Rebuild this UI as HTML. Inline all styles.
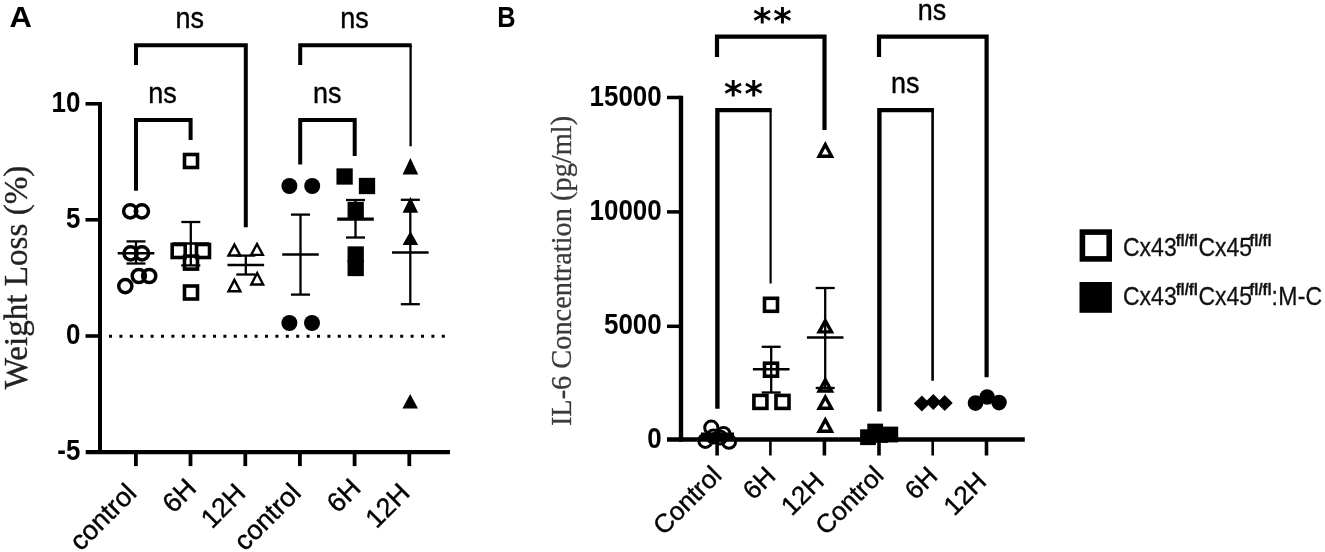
<!DOCTYPE html>
<html lang="en"><head><meta charset="utf-8"><title>Figure</title>
<style>
html,body{margin:0;padding:0;background:#fff;}
body{width:1325px;height:552px;overflow:hidden;}
svg{display:block;}
</style></head>
<body>
<svg width="1325" height="552" viewBox="0 0 1325 552">
<rect width="1325" height="552" fill="#fff"/>
<text transform="translate(9.6,27) scale(1.05,1)" font-family='"Liberation Sans", Arial, sans-serif' font-size="29.5" font-weight="bold" text-anchor="start" fill="#000" >A</text>
<line x1="100" y1="102" x2="100" y2="453.5" stroke="#000" stroke-width="4" stroke-linecap="butt" />
<line x1="85.7" y1="452.1" x2="450" y2="452.1" stroke="#000" stroke-width="4.2" stroke-linecap="butt" />
<line x1="85.5" y1="103.8" x2="100" y2="103.8" stroke="#000" stroke-width="3.6" stroke-linecap="butt" />
<line x1="85.5" y1="219.8" x2="100" y2="219.8" stroke="#000" stroke-width="3.6" stroke-linecap="butt" />
<line x1="85.5" y1="336" x2="100" y2="336" stroke="#000" stroke-width="3.6" stroke-linecap="butt" />
<text transform="translate(80.3,111.89999999999999) scale(0.885,1)" font-family='"Liberation Sans", Arial, sans-serif' font-size="29.3" font-weight="bold" text-anchor="end" fill="#000" >10</text>
<text transform="translate(80.3,227.9) scale(0.885,1)" font-family='"Liberation Sans", Arial, sans-serif' font-size="29.3" font-weight="bold" text-anchor="end" fill="#000" >5</text>
<text transform="translate(80.3,344.1) scale(0.885,1)" font-family='"Liberation Sans", Arial, sans-serif' font-size="29.3" font-weight="bold" text-anchor="end" fill="#000" >0</text>
<text transform="translate(80.3,459.90000000000003) scale(0.885,1)" font-family='"Liberation Sans", Arial, sans-serif' font-size="29.3" font-weight="bold" text-anchor="end" fill="#000" >-5</text>
<line x1="135.9" y1="451" x2="135.9" y2="466.1" stroke="#000" stroke-width="3.8" stroke-linecap="butt" />
<line x1="190.5" y1="451" x2="190.5" y2="466.1" stroke="#000" stroke-width="3.8" stroke-linecap="butt" />
<line x1="245.3" y1="451" x2="245.3" y2="466.1" stroke="#000" stroke-width="3.8" stroke-linecap="butt" />
<line x1="299.9" y1="451" x2="299.9" y2="466.1" stroke="#000" stroke-width="3.8" stroke-linecap="butt" />
<line x1="354.6" y1="451" x2="354.6" y2="466.1" stroke="#000" stroke-width="3.8" stroke-linecap="butt" />
<line x1="409.3" y1="451" x2="409.3" y2="466.1" stroke="#000" stroke-width="3.8" stroke-linecap="butt" />
<line x1="109" y1="336.3" x2="449" y2="336.3" stroke="#000" stroke-width="3" stroke-dasharray="3 7.4"/>
<text transform="translate(26.5,277.5) rotate(-90) scale(0.975,1)" font-family='"Liberation Serif", "Times New Roman", serif' font-size="34" font-weight="normal" text-anchor="middle" fill="#222"  stroke="#222" stroke-width="0.35">Weight Loss (%)</text>
<text transform="translate(138.0,494.7) rotate(-45)" font-family='"Liberation Sans", Arial, sans-serif' font-size="27" font-weight="normal" text-anchor="end" fill="#000"  stroke="#000" stroke-width="0.4">control</text>
<text transform="translate(197.9,489.8) rotate(-45)" font-family='"Liberation Sans", Arial, sans-serif' font-size="27" font-weight="normal" text-anchor="end" fill="#000"  stroke="#000" stroke-width="0.4">6H</text>
<text transform="translate(247.0,494.7) rotate(-45)" font-family='"Liberation Sans", Arial, sans-serif' font-size="27" font-weight="normal" text-anchor="end" fill="#000"  stroke="#000" stroke-width="0.4">12H</text>
<text transform="translate(302.4,494.6) rotate(-45)" font-family='"Liberation Sans", Arial, sans-serif' font-size="27" font-weight="normal" text-anchor="end" fill="#000"  stroke="#000" stroke-width="0.4">control</text>
<text transform="translate(362.20000000000005,489.6) rotate(-45)" font-family='"Liberation Sans", Arial, sans-serif' font-size="27" font-weight="normal" text-anchor="end" fill="#000"  stroke="#000" stroke-width="0.4">6H</text>
<text transform="translate(411.40000000000003,494.5) rotate(-45)" font-family='"Liberation Sans", Arial, sans-serif' font-size="27" font-weight="normal" text-anchor="end" fill="#000"  stroke="#000" stroke-width="0.4">12H</text>
<polyline points="136,65 136,45.2 245.8,45.2 245.8,227.3" fill="none" stroke="#000" stroke-width="4" stroke-linejoin="miter"/>
<polyline points="136,190.7 136,120 190.6,120 190.6,140" fill="none" stroke="#000" stroke-width="4" stroke-linejoin="miter"/>
<polyline points="300.2,65 300.2,45.2 411.7,45.2" fill="none" stroke="#000" stroke-width="4" stroke-linejoin="miter"/>
<line x1="410.6" y1="45.2" x2="410.6" y2="146.3" stroke="#000" stroke-width="2.3" stroke-linecap="butt" />
<polyline points="300.2,164.5 300.2,120 354.7,120 354.7,156" fill="none" stroke="#000" stroke-width="4" stroke-linejoin="miter"/>
<text transform="translate(189.8,28) scale(0.93,1)" font-family='"Liberation Sans", Arial, sans-serif' font-size="29" font-weight="normal" text-anchor="middle" fill="#000"  stroke="#000" stroke-width="0.4">ns</text>
<text transform="translate(162.4,103.3) scale(0.93,1)" font-family='"Liberation Sans", Arial, sans-serif' font-size="29" font-weight="normal" text-anchor="middle" fill="#000"  stroke="#000" stroke-width="0.4">ns</text>
<text transform="translate(354.6,28) scale(0.93,1)" font-family='"Liberation Sans", Arial, sans-serif' font-size="29" font-weight="normal" text-anchor="middle" fill="#000"  stroke="#000" stroke-width="0.4">ns</text>
<text transform="translate(327.2,103.1) scale(0.93,1)" font-family='"Liberation Sans", Arial, sans-serif' font-size="29" font-weight="normal" text-anchor="middle" fill="#000"  stroke="#000" stroke-width="0.4">ns</text>
<line x1="117.7" y1="253.2" x2="154.3" y2="253.2" stroke="#000" stroke-width="2.5" stroke-linecap="butt" />
<line x1="126.5" y1="241.4" x2="145.5" y2="241.4" stroke="#000" stroke-width="2.3" stroke-linecap="butt" />
<line x1="126.5" y1="263.5" x2="145.5" y2="263.5" stroke="#000" stroke-width="2.3" stroke-linecap="butt" />
<line x1="136" y1="241.4" x2="136" y2="263.5" stroke="#000" stroke-width="2.3" stroke-linecap="butt" />
<circle cx="130.2" cy="211.3" r="6.6" fill="none" stroke="#000" stroke-width="3.5"/>
<circle cx="141.9" cy="211.3" r="6.6" fill="none" stroke="#000" stroke-width="3.5"/>
<circle cx="130.6" cy="253.3" r="6.6" fill="none" stroke="#000" stroke-width="3.5"/>
<circle cx="142" cy="253.3" r="6.6" fill="none" stroke="#000" stroke-width="3.5"/>
<circle cx="138.8" cy="276" r="6.6" fill="none" stroke="#000" stroke-width="3.5"/>
<circle cx="149.2" cy="276" r="6.6" fill="none" stroke="#000" stroke-width="3.5"/>
<circle cx="125.3" cy="286.1" r="6.6" fill="none" stroke="#000" stroke-width="3.5"/>
<line x1="172.5" y1="243.6" x2="209.10000000000002" y2="243.6" stroke="#000" stroke-width="2.5" stroke-linecap="butt" />
<line x1="181.3" y1="222" x2="200.3" y2="222" stroke="#000" stroke-width="2.3" stroke-linecap="butt" />
<line x1="181.3" y1="265.4" x2="200.3" y2="265.4" stroke="#000" stroke-width="2.3" stroke-linecap="butt" />
<line x1="190.8" y1="222" x2="190.8" y2="265.4" stroke="#000" stroke-width="2.3" stroke-linecap="butt" />
<rect x="184.5" y="154.5" width="13" height="13" fill="none" stroke="#000" stroke-width="3.6"/>
<rect x="172.2" y="244.5" width="13" height="13" fill="none" stroke="#000" stroke-width="3.6"/>
<rect x="196.5" y="244.5" width="13" height="13" fill="none" stroke="#000" stroke-width="3.6"/>
<rect x="184.5" y="256.1" width="13" height="13" fill="none" stroke="#000" stroke-width="3.6"/>
<rect x="184.5" y="286.0" width="13" height="13" fill="none" stroke="#000" stroke-width="3.6"/>
<line x1="227.5" y1="265" x2="264.1" y2="265" stroke="#000" stroke-width="2.5" stroke-linecap="butt" />
<line x1="236.3" y1="255.6" x2="255.3" y2="255.6" stroke="#000" stroke-width="2.3" stroke-linecap="butt" />
<line x1="236.3" y1="274.5" x2="255.3" y2="274.5" stroke="#000" stroke-width="2.3" stroke-linecap="butt" />
<line x1="245.8" y1="255.6" x2="245.8" y2="274.5" stroke="#000" stroke-width="2.3" stroke-linecap="butt" />
<polygon points="234.40,244.64 228.52,255.50 240.28,255.50" fill="none" stroke="#000" stroke-width="2.4" stroke-linejoin="miter" stroke-miterlimit="10"/>
<polygon points="257.00,244.04 251.12,254.90 262.88,254.90" fill="none" stroke="#000" stroke-width="2.4" stroke-linejoin="miter" stroke-miterlimit="10"/>
<polygon points="234.40,279.83 228.48,291.30 240.32,291.30" fill="none" stroke="#000" stroke-width="2.4" stroke-linejoin="miter" stroke-miterlimit="10"/>
<polygon points="257.20,273.03 251.28,284.50 263.12,284.50" fill="none" stroke="#000" stroke-width="2.4" stroke-linejoin="miter" stroke-miterlimit="10"/>
<line x1="282.2" y1="254.6" x2="318.8" y2="254.6" stroke="#000" stroke-width="2.5" stroke-linecap="butt" />
<line x1="291.0" y1="214.6" x2="310.0" y2="214.6" stroke="#000" stroke-width="2.3" stroke-linecap="butt" />
<line x1="291.0" y1="294.6" x2="310.0" y2="294.6" stroke="#000" stroke-width="2.3" stroke-linecap="butt" />
<line x1="300.5" y1="214.6" x2="300.5" y2="294.6" stroke="#000" stroke-width="2.3" stroke-linecap="butt" />
<circle cx="289.4" cy="186" r="8" fill="#000"/>
<circle cx="312.2" cy="186" r="8" fill="#000"/>
<circle cx="289.4" cy="323" r="8" fill="#000"/>
<circle cx="312" cy="323" r="8" fill="#000"/>
<line x1="337.2" y1="219.2" x2="373.8" y2="219.2" stroke="#000" stroke-width="3.2" stroke-linecap="butt" />
<line x1="346.0" y1="200" x2="365.0" y2="200" stroke="#000" stroke-width="2.3" stroke-linecap="butt" />
<line x1="346.0" y1="237.5" x2="365.0" y2="237.5" stroke="#000" stroke-width="2.3" stroke-linecap="butt" />
<line x1="355.5" y1="200" x2="355.5" y2="237.5" stroke="#000" stroke-width="2.3" stroke-linecap="butt" />
<rect x="336.45000000000005" y="168.35" width="16.3" height="16.3" fill="#000"/>
<rect x="358.85" y="177.85" width="16.3" height="16.3" fill="#000"/>
<rect x="347.55" y="201.85" width="16.3" height="16.3" fill="#000"/>
<rect x="347.55" y="246.35" width="16.3" height="16.3" fill="#000"/>
<rect x="347.55" y="259.85" width="16.3" height="16.3" fill="#000"/>
<line x1="392.0" y1="252.6" x2="428.6" y2="252.6" stroke="#000" stroke-width="2.5" stroke-linecap="butt" />
<line x1="400.8" y1="199.8" x2="419.8" y2="199.8" stroke="#000" stroke-width="2.3" stroke-linecap="butt" />
<line x1="400.8" y1="304.2" x2="419.8" y2="304.2" stroke="#000" stroke-width="2.3" stroke-linecap="butt" />
<line x1="410.3" y1="199.8" x2="410.3" y2="304.2" stroke="#000" stroke-width="2.3" stroke-linecap="butt" />
<polygon points="410.4,158 402.59999999999997,174.4 418.2,174.4" fill="#000"/>
<polygon points="410.4,197 402.59999999999997,212.8 418.2,212.8" fill="#000"/>
<polygon points="410.4,230.9 402.59999999999997,245 418.2,245" fill="#000"/>
<polygon points="410.2,394 402.4,408.4 418.0,408.4" fill="#000"/>
<text transform="translate(497.2,27.2) scale(0.86,1)" font-family='"Liberation Sans", Arial, sans-serif' font-size="29.5" font-weight="bold" text-anchor="start" fill="#000" >B</text>
<line x1="681" y1="95.7" x2="681" y2="441.8" stroke="#000" stroke-width="4.4" stroke-linecap="butt" />
<line x1="667" y1="439.6" x2="1024.8" y2="439.6" stroke="#000" stroke-width="4.5" stroke-linecap="butt" />
<line x1="667" y1="97.5" x2="681" y2="97.5" stroke="#000" stroke-width="3.5" stroke-linecap="butt" />
<line x1="667" y1="211.9" x2="681" y2="211.9" stroke="#000" stroke-width="3.5" stroke-linecap="butt" />
<line x1="667" y1="326.3" x2="681" y2="326.3" stroke="#000" stroke-width="3.5" stroke-linecap="butt" />
<text transform="translate(661.7,105.5) scale(0.885,1)" font-family='"Liberation Sans", Arial, sans-serif' font-size="29.3" font-weight="bold" text-anchor="end" fill="#000" >15000</text>
<text transform="translate(661.7,219.9) scale(0.885,1)" font-family='"Liberation Sans", Arial, sans-serif' font-size="29.3" font-weight="bold" text-anchor="end" fill="#000" >10000</text>
<text transform="translate(661.7,334.3) scale(0.885,1)" font-family='"Liberation Sans", Arial, sans-serif' font-size="29.3" font-weight="bold" text-anchor="end" fill="#000" >5000</text>
<text transform="translate(661.7,448.0) scale(0.885,1)" font-family='"Liberation Sans", Arial, sans-serif' font-size="29.3" font-weight="bold" text-anchor="end" fill="#000" >0</text>
<line x1="717.1" y1="439" x2="717.1" y2="455.5" stroke="#000" stroke-width="3.6" stroke-linecap="butt" />
<line x1="770.4" y1="439" x2="770.4" y2="455.5" stroke="#000" stroke-width="2.6" stroke-linecap="butt" />
<line x1="824.4" y1="439" x2="824.4" y2="455.5" stroke="#000" stroke-width="3.6" stroke-linecap="butt" />
<line x1="879" y1="439" x2="879" y2="455.5" stroke="#000" stroke-width="3.6" stroke-linecap="butt" />
<line x1="932.7" y1="439" x2="932.7" y2="455.5" stroke="#000" stroke-width="2.6" stroke-linecap="butt" />
<line x1="986.5" y1="439" x2="986.5" y2="455.5" stroke="#000" stroke-width="3.6" stroke-linecap="butt" />
<text transform="translate(570.5,271) rotate(-90) scale(0.93,1)" font-family='"Liberation Serif", "Times New Roman", serif' font-size="30.5" font-weight="normal" text-anchor="middle" fill="#3a3a3a"  stroke="#3a3a3a" stroke-width="0.3">IL-6 Concentration (pg/ml)</text>
<text transform="translate(723.0,477) rotate(-45)" font-family='"Liberation Sans", Arial, sans-serif' font-size="26" font-weight="normal" text-anchor="end" fill="#000"  stroke="#000" stroke-width="0.4">Control</text>
<text transform="translate(777.0,477.5) rotate(-45)" font-family='"Liberation Sans", Arial, sans-serif' font-size="26" font-weight="normal" text-anchor="end" fill="#000"  stroke="#000" stroke-width="0.4">6H</text>
<text transform="translate(825.5,483) rotate(-45)" font-family='"Liberation Sans", Arial, sans-serif' font-size="26" font-weight="normal" text-anchor="end" fill="#000"  stroke="#000" stroke-width="0.4">12H</text>
<text transform="translate(885.2,477) rotate(-45)" font-family='"Liberation Sans", Arial, sans-serif' font-size="26" font-weight="normal" text-anchor="end" fill="#000"  stroke="#000" stroke-width="0.4">Control</text>
<text transform="translate(939.0,477.5) rotate(-45)" font-family='"Liberation Sans", Arial, sans-serif' font-size="26" font-weight="normal" text-anchor="end" fill="#000"  stroke="#000" stroke-width="0.4">6H</text>
<text transform="translate(987.9,483) rotate(-45)" font-family='"Liberation Sans", Arial, sans-serif' font-size="26" font-weight="normal" text-anchor="end" fill="#000"  stroke="#000" stroke-width="0.4">12H</text>
<polyline points="717,57 717,36.7 824.5,36.7 824.5,130" fill="none" stroke="#000" stroke-width="4.2" stroke-linejoin="miter"/>
<polyline points="717.4,408.8 717.4,110.1 771.7,110.1" fill="none" stroke="#000" stroke-width="4.4" stroke-linejoin="miter"/>
<line x1="770.6" y1="110.1" x2="770.6" y2="283.5" stroke="#000" stroke-width="2.2" stroke-linecap="butt" />
<polyline points="879,57 879,36.7 986.6,36.7 986.6,377.2" fill="none" stroke="#000" stroke-width="4.2" stroke-linejoin="miter"/>
<polyline points="879.4,411.6 879.4,110.1 933.9,110.1" fill="none" stroke="#000" stroke-width="4.4" stroke-linejoin="miter"/>
<line x1="932.6" y1="110.1" x2="932.6" y2="380.8" stroke="#000" stroke-width="2.6" stroke-linecap="butt" />
<text x="752.9 773.3" y="32.7" font-family='"DejaVu Sans", "Liberation Sans", sans-serif' font-weight="bold" font-size="35.2" fill="#000">**</text>
<text x="724.0 744.4" y="105.9" font-family='"DejaVu Sans", "Liberation Sans", sans-serif' font-weight="bold" font-size="35.2" fill="#000">**</text>
<text transform="translate(932,19.6) scale(0.93,1)" font-family='"Liberation Sans", Arial, sans-serif' font-size="29" font-weight="normal" text-anchor="middle" fill="#000"  stroke="#000" stroke-width="0.4">ns</text>
<text transform="translate(905.2,92.5) scale(0.93,1)" font-family='"Liberation Sans", Arial, sans-serif' font-size="29" font-weight="normal" text-anchor="middle" fill="#000"  stroke="#000" stroke-width="0.4">ns</text>
<rect x="701" y="432.5" width="33" height="8" fill="#000"/>
<circle cx="711.3" cy="427.7" r="6.6" fill="none" stroke="#000" stroke-width="3"/>
<circle cx="723.5" cy="434" r="6.6" fill="none" stroke="#000" stroke-width="3"/>
<circle cx="705.4" cy="440.8" r="6.6" fill="none" stroke="#000" stroke-width="3"/>
<circle cx="729" cy="441.7" r="6.6" fill="none" stroke="#000" stroke-width="3"/>
<circle cx="713.5" cy="436.5" r="6.6" fill="none" stroke="#000" stroke-width="3"/>
<circle cx="720" cy="437.5" r="6.6" fill="none" stroke="#000" stroke-width="3"/>
<line x1="752.9000000000001" y1="369.3" x2="789.5" y2="369.3" stroke="#000" stroke-width="2.5" stroke-linecap="butt" />
<line x1="761.7" y1="346.8" x2="780.7" y2="346.8" stroke="#000" stroke-width="2.3" stroke-linecap="butt" />
<line x1="761.7" y1="392.5" x2="780.7" y2="392.5" stroke="#000" stroke-width="2.3" stroke-linecap="butt" />
<line x1="771.2" y1="346.8" x2="771.2" y2="392.5" stroke="#000" stroke-width="2.3" stroke-linecap="butt" />
<rect x="764.5" y="298.3" width="13" height="13" fill="none" stroke="#000" stroke-width="3.6"/>
<rect x="764.5" y="363.2" width="13" height="13" fill="none" stroke="#000" stroke-width="3.6"/>
<rect x="753.9" y="395.4" width="13" height="13" fill="none" stroke="#000" stroke-width="3.6"/>
<rect x="776.0" y="395.4" width="13" height="13" fill="none" stroke="#000" stroke-width="3.6"/>
<line x1="806.9000000000001" y1="337.5" x2="843.5" y2="337.5" stroke="#000" stroke-width="2.5" stroke-linecap="butt" />
<line x1="815.7" y1="288" x2="834.7" y2="288" stroke="#000" stroke-width="2.3" stroke-linecap="butt" />
<line x1="815.7" y1="388" x2="834.7" y2="388" stroke="#000" stroke-width="2.3" stroke-linecap="butt" />
<line x1="825.2" y1="288" x2="825.2" y2="388" stroke="#000" stroke-width="2.3" stroke-linecap="butt" />
<polygon points="825.30,144.56 819.10,156.20 831.50,156.20" fill="none" stroke="#000" stroke-width="3.4" stroke-linejoin="miter" stroke-miterlimit="10"/>
<polygon points="825.30,320.68 819.14,331.90 831.46,331.90" fill="none" stroke="#000" stroke-width="3.4" stroke-linejoin="miter" stroke-miterlimit="10"/>
<polygon points="825.30,379.70 819.13,391.00 831.47,391.00" fill="none" stroke="#000" stroke-width="3.4" stroke-linejoin="miter" stroke-miterlimit="10"/>
<polygon points="825.30,396.98 819.14,408.20 831.46,408.20" fill="none" stroke="#000" stroke-width="3.4" stroke-linejoin="miter" stroke-miterlimit="10"/>
<polygon points="825.30,419.75 819.11,431.30 831.49,431.30" fill="none" stroke="#000" stroke-width="3.4" stroke-linejoin="miter" stroke-miterlimit="10"/>
<rect x="860.1" y="429.3" width="15.8" height="15.8" fill="#000"/>
<rect x="867.3000000000001" y="423.6" width="15.8" height="15.8" fill="#000"/>
<rect x="882.4" y="426.6" width="15.8" height="15.8" fill="#000"/>
<rect x="872.1" y="427.1" width="15.8" height="15.8" fill="#000"/>
<polygon points="921.9,395.5 929.9,403.5 921.9,411.5 913.9,403.5" fill="#000"/>
<polygon points="933.3,394 941.3,402 933.3,410 925.3,402" fill="#000"/>
<polygon points="944.7,395 952.7,403 944.7,411 936.7,403" fill="#000"/>
<circle cx="975.5" cy="403.1" r="7.8" fill="#000"/>
<circle cx="987.1" cy="397" r="7.8" fill="#000"/>
<circle cx="999" cy="402.6" r="7.8" fill="#000"/>
<rect x="1082.4" y="232.1" width="26.8" height="26.8" fill="#fff" stroke="#000" stroke-width="5.6"/>
<rect x="1079.5" y="282" width="32.4" height="30.8" fill="#000"/>
<text transform="translate(1123,256) scale(0.875,1)" font-family='"Liberation Sans", Arial, sans-serif' font-size="26.3" font-weight="normal" text-anchor="start" fill="#111"  stroke="#111" stroke-width="0.3">Cx43<tspan font-size="17" font-weight="bold" dy="-9.7" dx="-1.2">fl/fl</tspan><tspan dy="9.7" dx="0.5">Cx45</tspan><tspan font-size="17" font-weight="bold" dy="-9.7" dx="-3.2">fl/fl</tspan></text>
<text transform="translate(1123,304.8) scale(0.875,1)" font-family='"Liberation Sans", Arial, sans-serif' font-size="26.3" font-weight="normal" text-anchor="start" fill="#111"  stroke="#111" stroke-width="0.3">Cx43<tspan font-size="17" font-weight="bold" dy="-9.7" dx="-1.2">fl/fl</tspan><tspan dy="9.7" dx="0.5">Cx45</tspan><tspan font-size="17" font-weight="bold" dy="-9.7" dx="-3.2">fl/fl</tspan><tspan dy="9.7" letter-spacing="0.3">:M-C</tspan></text>
</svg>
</body></html>
